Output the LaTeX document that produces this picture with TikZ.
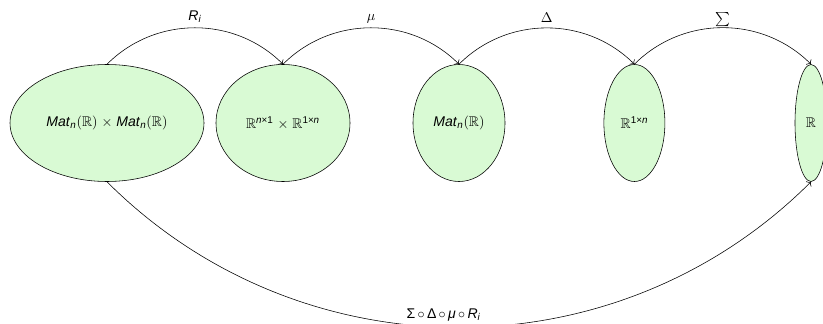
\documentclass[tikz,border=0pt]{standalone}
\usepackage{amsmath}
\usepackage{amssymb}
\usepackage{fontspec}
\setmainfont{Liberation Sans}
\usepackage{xcolor}
\usepackage{tikz}
\usetikzlibrary{arrows.meta,shapes.geometric}
\definecolor{setgreen}{RGB}{217,250,212}
\newcommand{\MatR}{\textit{Mat}\textsubscript{\textit{n}}$(\mathbb{R})$}

\begin{document}
\begin{tikzpicture}[set/.style={ellipse,draw,fill=setgreen,inner sep=0pt,minimum height=2.925cm}]
\useasboundingbox (0,0) rectangle (20.575,8.075);
    \node[set,minimum width=4.85cm] at (2.675,5) (mm) {\MatR{} $\times$ \MatR};
    \node[set,minimum width=3.35cm] at (7.075,5) (vv) {$\mathbb{R}$\textsuperscript{\textit{n}×1} $\times$ $\mathbb{R}$\textsuperscript{1×\textit{n}}};
    \node[set,minimum width=2.3cm] at (11.475,5) (m) {\MatR};
    \node[set,minimum width=1.525cm] at (15.86,5) (v) {$\mathbb{R}$\textsuperscript{1×\textit{n}}};
    \node[set,minimum width=0.8cm] at (20.275,5) (r) {$\mathbb{R}$};
    \draw[->] (mm.north) to[bend left=45] node[above] {\textit{R}\textsubscript{\textit{i}}} (vv.north);
    \draw[->] (vv.north) to[bend left=45] node[above] {$\mu$} (m.north);
    \draw[->] (m.north) to[bend left=45] node[above] {$\Delta$} (v.north);
    \draw[->] (v.north) to[bend left=45] node[above=-3pt] {$\sum$} (r.north);
    \draw[->] (mm.south) to[bend right=45] node[pos=0.48,above=1pt] {Σ\,$\circ$\,Δ\,$\circ$\,\textit{μ}\,$\circ$\,\textit{R}\textsubscript{\textit{i}}} (r.south);
\end{tikzpicture}
\end{document}
